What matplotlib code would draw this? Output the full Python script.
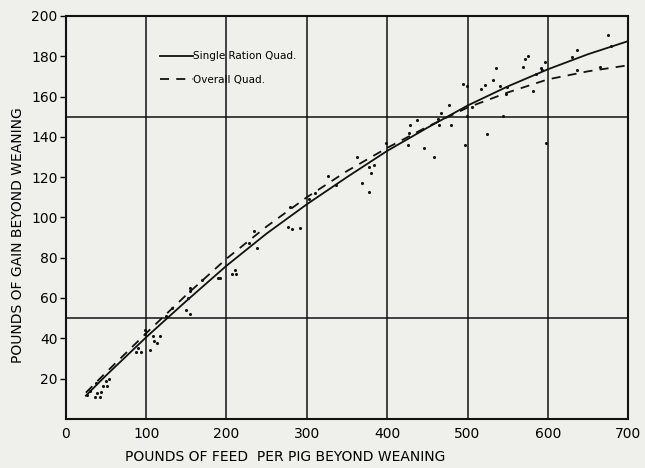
import matplotlib
matplotlib.use("Agg")
from matplotlib import pyplot as plt

# observed pigs: feed (lb) vs gain (lb)
feed = [26, 30, 36, 38, 39, 42.5, 44, 45.8, 50, 50.8, 54,
        88, 90.4, 94, 98.75, 98.75, 105, 108, 110, 114, 117.5,
        124.6, 132, 149, 151.7, 154, 154, 155, 169.6,
        190, 191.6, 207, 210, 211.5, 227.5, 234, 237.5,
        276, 279, 281, 292, 303, 310,
        326.6, 336, 363, 369, 377.5, 377, 379.6, 384, 399,
        426, 427, 428, 437, 446, 458, 463, 465, 467.5, 476.7, 480,
        494.6, 497, 499, 499.6, 506, 517, 522, 524, 532, 535, 540, 544.6, 548, 549,
        569, 571, 575, 582, 585, 591, 593, 597, 598,
        630, 636, 636, 665, 675, 678]
gain = [12, 14, 10.7, 17.7, 13, 10.7, 13.5, 16.3, 19, 16.3, 20,
        33, 35, 33, 44.3, 42.3, 34, 41, 38.5, 37.7, 41.3,
        51, 55, 54, 60, 65, 63.5, 52, 69,
        70, 69.7, 72, 74, 72, 87.5, 93, 85,
        95, 105, 94, 94.7, 109, 112,
        120.5, 116, 130, 117, 112.5, 125, 122, 126, 137,
        136, 142, 146, 148.5, 134.5, 130, 149, 146, 152, 156, 146,
        166, 136, 150.5, 165, 155, 163.5, 165.7, 141.5, 168, 174, 165, 150.5, 161, 164.5,
        174.7, 178.5, 180, 162.5, 171, 174, 173, 177, 137,
        179.5, 183, 173, 174.5, 190.7, 185]

# fitted curves
curve_x = [25, 50, 100, 150, 200, 250, 300, 350, 400, 450, 500, 550, 600, 650, 700]
single_quad = [11.5, 21.5, 40.5, 58.5, 76, 92, 106.5, 120, 133, 144.5, 155.5, 165, 173.5, 181, 187.5]
overall_quad = [13, 23, 42.5, 61.5, 79.5, 95.5, 110, 123, 134.5, 145, 154.5, 162, 168.5, 172.5, 175.5]

bg = '#efefec'
fig = plt.figure(figsize=(6.45, 4.68), dpi=100, facecolor=bg)
ax = fig.add_axes([0.102, 0.105, 0.872, 0.861], facecolor=bg)

ax.plot(curve_x, single_quad, color='#111111', lw=1.3, label='Single Ration Quad.')
ax.plot(curve_x, overall_quad, color='#111111', lw=1.3, ls=(0, (5, 4)), label='Overall Quad.')
ax.scatter(feed, gain, s=5, color='#111111', zorder=3, linewidths=0)

ax.set_xlim(0, 700)
ax.set_ylim(0, 200)
ax.set_xticks(range(0, 701, 100))
ax.set_yticks(range(20, 201, 20))
ax.set_yticks([50, 100, 150], minor=True)
ax.grid(True, which='major', axis='x', color='#111111', lw=1.1)
ax.grid(True, which='minor', axis='y', color='#111111', lw=1.1)
ax.tick_params(axis='x', length=0, labelsize=10, pad=6)
ax.tick_params(axis='y', which='major', length=4, width=1, labelsize=10, pad=2)
ax.tick_params(axis='y', which='minor', length=0)
for s in ax.spines.values():
    s.set_linewidth(1.5)
    s.set_color('#111111')

ax.set_xlabel("POUNDS OF FEED  PER PIG BEYOND WEANING", fontsize=10)
ax.xaxis.set_label_coords(0.39, -0.078)
ax.set_ylabel("POUNDS OF GAIN BEYOND WEANING", fontsize=10)
ax.yaxis.set_label_coords(-0.072, 0.455)

ax.legend(loc='upper left', bbox_to_anchor=(0.15, 0.935), frameon=False,
          handlelength=3.2, handletextpad=0.0, fontsize=7.5, labelspacing=1.3)

plt.savefig('out.png', dpi=100, facecolor=bg)
